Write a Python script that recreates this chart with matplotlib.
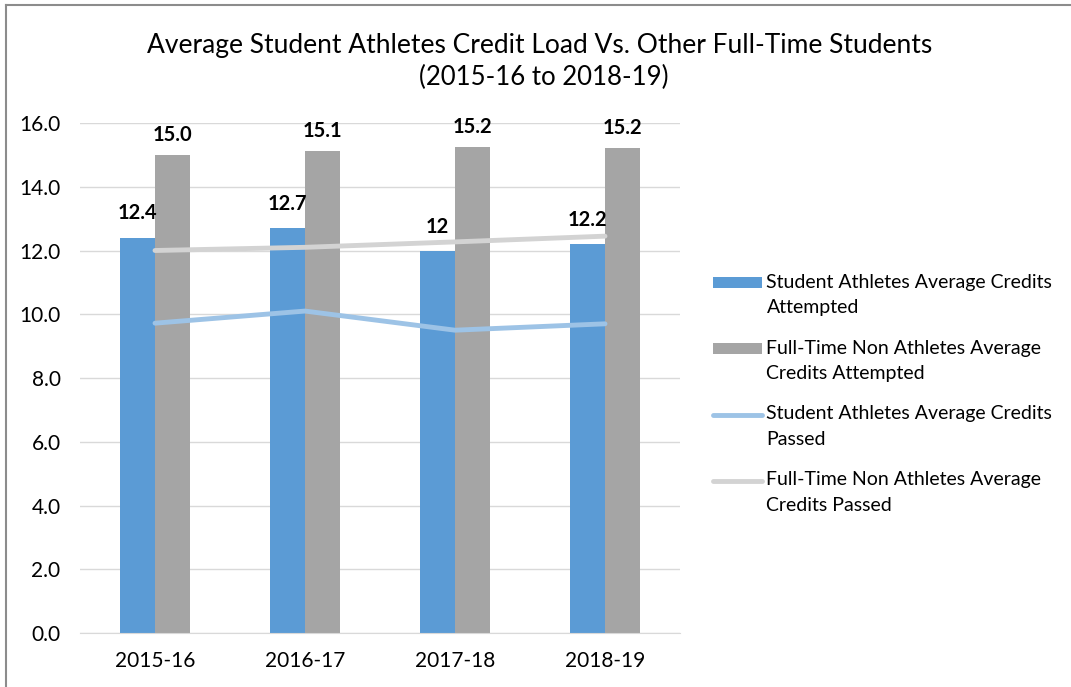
import matplotlib.pyplot as plt
import numpy as np
from matplotlib.lines import Line2D
from matplotlib.legend_handler import HandlerPatch, HandlerLine2D
from matplotlib.transforms import ScaledTranslation

plt.rcParams['font.family'] = ['Lato', 'DejaVu Sans']

years = ["2015-16", "2016-17", "2017-18", "2018-19"]
athletes_attempted = [12.4, 12.7, 11.98, 12.2]
athletes_attempted_labels = ["12.4", "12.7", "12", "12.2"]
nonathletes_attempted = [15.0, 15.12, 15.25, 15.22]
nonathletes_attempted_labels = ["15.0", "15.1", "15.2", "15.2"]
athletes_passed = [9.72, 10.1, 9.5, 9.7]
nonathletes_passed = [12.0, 12.1, 12.27, 12.45]

W, H = 1071, 687
fig = plt.figure(figsize=(W / 100, H / 100), dpi=100)
ax = fig.add_axes([80 / W, 1 - 633 / H, 600 / W, (633 - 123) / H])

x = np.arange(len(years))
bw = 0.235
b1 = ax.bar(x - bw / 2, athletes_attempted, bw, color="#5B9BD5", zorder=2)
b2 = ax.bar(x + bw / 2, nonathletes_attempted, bw, color="#A5A5A5", zorder=2)
l1, = ax.plot(x, athletes_passed, color="#9DC3E6", lw=3.5, zorder=3, solid_capstyle="round")
l2, = ax.plot(x, nonathletes_passed, color="#D3D3D3", lw=3.5, zorder=3, solid_capstyle="round")

for i in range(len(years)):
    ax.text(x[i] - bw / 2, athletes_attempted[i] + 0.45, athletes_attempted_labels[i],
            ha="center", va="bottom", fontsize=14.5, fontweight="bold", zorder=4)
    ax.text(x[i] + bw / 2, nonathletes_attempted[i] + 0.3, nonathletes_attempted_labels[i],
            ha="center", va="bottom", fontsize=14.5, fontweight="bold", zorder=4)

ax.set_xlim(-0.5, 3.5)
ax.set_ylim(0, 16)
ax.set_yticks(np.arange(0, 17, 2))
ax.set_yticklabels([f"{v:.1f}" for v in np.arange(0, 17, 2)])
ax.set_xticks(x)
ax.set_xticklabels(years)
ax.tick_params(axis="both", length=0, labelsize=15, colors="#000000")
ax.tick_params(axis="y", pad=14)
ax.tick_params(axis="x", pad=13)
ax.yaxis.grid(True, color="#D9D9D9", lw=1, zorder=0)
ax.set_axisbelow(True)
for side in ["top", "right", "left"]:
    ax.spines[side].set_visible(False)
ax.spines["bottom"].set_color("#D9D9D9")

fig.text(540 / W, 1 - 45 / H, "Average Student Athletes Credit Load Vs. Other Full-Time Students",
         ha="center", va="center", fontsize=19)
fig.text(544 / W, 1 - 77 / H, "(2015-16 to 2018-19)", ha="center", va="center", fontsize=18.5)


# legend keys sit on the first text line, not centred on the two-line label
def first_line(base):
    class Raised(base):
        def create_artists(self, legend, orig_handle, xdescent, ydescent, width, height,
                           fontsize, trans):
            up = ScaledTranslation(0, 12.5 / 100, fig.dpi_scale_trans)
            return super().create_artists(legend, orig_handle, xdescent, ydescent, width,
                                          height, fontsize, trans + up)
    return Raised()


h1, h2 = b1[0], b2[0]
leg = ax.legend([h1, h2, l1, l2],
                ["Student Athletes Average Credits\nAttempted",
                 "Full-Time Non Athletes Average\nCredits Attempted",
                 "Student Athletes Average Credits\nPassed",
                 "Full-Time Non Athletes Average\nCredits Passed"],
                handler_map={h1: first_line(HandlerPatch), h2: first_line(HandlerPatch),
                             l1: first_line(HandlerLine2D), l2: first_line(HandlerLine2D)},
                loc="upper left", bbox_to_anchor=(713 / W, 1 - 274 / H), bbox_transform=fig.transFigure,
                frameon=False, fontsize=14, handlelength=2.5, handleheight=0.5, handletextpad=0.25,
                labelspacing=1.2, borderaxespad=0, borderpad=0)
for t in leg.get_texts():
    t.set_linespacing(1.6)

fig.add_artist(Line2D([6 / W, 1], [1 - 5 / H, 1 - 5 / H], color="#8C8C8C", lw=1.5,
                      transform=fig.transFigure))
fig.add_artist(Line2D([6 / W, 6 / W], [0, 1 - 5 / H], color="#8C8C8C", lw=1.5,
                      transform=fig.transFigure))

fig.savefig("out.png", dpi=100)
